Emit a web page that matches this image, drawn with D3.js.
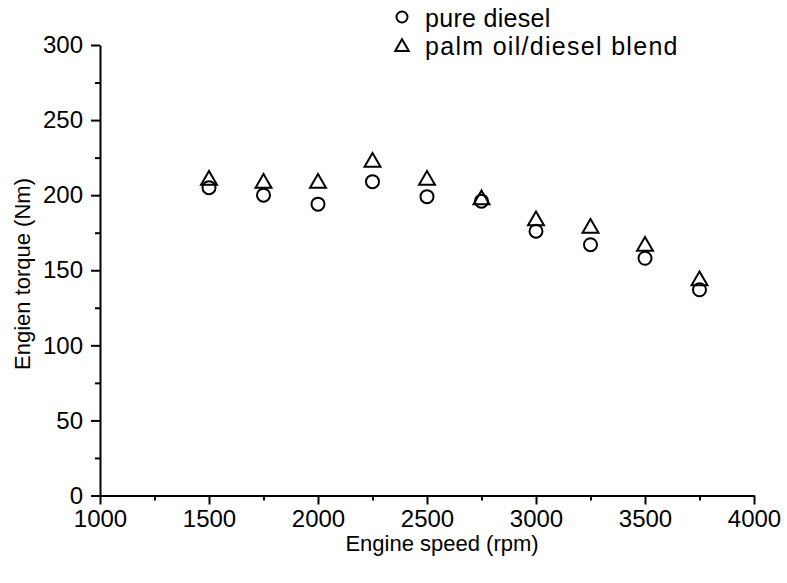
<!DOCTYPE html>
<html>
<head>
<meta charset="utf-8">
<script src="https://cdn.jsdelivr.net/npm/d3@7"></script>
<style>
  body { margin: 0; background: #fff; }
  text { font-family: "Liberation Sans", Arial, sans-serif; fill: #000; }
</style>
</head>
<body>
<div id="chart"></div>
<script>
// engine speed (rpm)
var speeds = [1500, 1750, 2000, 2250, 2500, 2750, 3000, 3250, 3500, 3750];
// torque (Nm)
var pureDiesel = [205, 200, 194, 209, 199, 196, 176, 167, 158, 137];
var palmBlend  = [210, 208, 208, 222, 210, 197, 183, 178, 166, 143];
var xTicks = [1000, 1500, 2000, 2500, 3000, 3500, 4000];
var yTicks = [0, 50, 100, 150, 200, 250, 300];

var width = 787, height = 583;

var svg = d3.select("#chart").append("svg")
    .attr("width", width)
    .attr("height", height);

var x = d3.scaleLinear().domain([1000, 4000]).range([100, 754]);
var y = d3.scaleLinear().domain([0, 300]).range([495.5, 45]);

// minor ticks first
svg.append("g")
    .attr("transform", "translate(0," + y(0) + ")")
    .call(d3.axisBottom(x).tickValues(d3.range(1250, 4000, 500)).tickSize(5).tickFormat(""))
    .call(function(g) { g.select(".domain").remove(); });
svg.append("g")
    .attr("transform", "translate(" + x(1000) + ",0)")
    .call(d3.axisLeft(y).tickValues(d3.range(25, 300, 50)).tickSize(5).tickFormat(""))
    .call(function(g) { g.select(".domain").remove(); });

var xAxis = svg.append("g")
    .attr("transform", "translate(0," + y(0) + ")")
    .call(d3.axisBottom(x).tickValues(xTicks).tickFormat(d3.format("d"))
        .tickSize(9).tickSizeOuter(0).tickPadding(5));
xAxis.selectAll("text").style("font-size", "24px").attr("dy", "0.71em");

var yAxis = svg.append("g")
    .attr("transform", "translate(" + x(1000) + ",0)")
    .call(d3.axisLeft(y).tickValues(yTicks).tickFormat(d3.format("d"))
        .tickSize(9).tickSizeOuter(0).tickPadding(8));
yAxis.selectAll("text").style("font-size", "24px");

svg.selectAll(".domain, .tick line").attr("stroke", "#000").attr("stroke-width", 2);

// axis titles
svg.append("text")
    .attr("x", 442).attr("y", 551)
    .attr("text-anchor", "middle")
    .style("font-size", "22px")
    .text("Engine speed (rpm)");

svg.append("text")
    .attr("transform", "translate(30,274) rotate(-90)")
    .attr("text-anchor", "middle")
    .style("font-size", "22px")
    .text("Engien torque (Nm)");

var tri = d3.symbol().type(d3.symbolTriangle).size(110);

// pure diesel circles
svg.selectAll(".pd")
    .data(speeds)
  .enter().append("circle")
    .attr("class", "pd")
    .attr("cx", function(d) { return x(d); })
    .attr("cy", function(d, i) { return y(pureDiesel[i]); })
    .attr("r", 6.5)
    .attr("fill", "none")
    .attr("stroke", "#000")
    .attr("stroke-width", 2);

// palm oil blend triangles
svg.selectAll(".pb")
    .data(speeds)
  .enter().append("path")
    .attr("class", "pb")
    .attr("d", tri)
    .attr("transform", function(d, i) { return "translate(" + x(d) + "," + y(palmBlend[i]) + ")"; })
    .attr("fill", "none")
    .attr("stroke", "#000")
    .attr("stroke-width", 2);

// legend
var legend = svg.append("g");
legend.append("circle")
    .attr("cx", 402).attr("cy", 17).attr("r", 5.5)
    .attr("fill", "none").attr("stroke", "#000").attr("stroke-width", 2);
legend.append("path")
    .attr("d", d3.symbol().type(d3.symbolTriangle).size(80))
    .attr("transform", "translate(402,47)")
    .attr("fill", "none").attr("stroke", "#000").attr("stroke-width", 2);
legend.append("text")
    .attr("x", 425).attr("y", 27)
    .style("font-size", "25px")
    .style("letter-spacing", "0.3px")
    .text("pure diesel");
legend.append("text")
    .attr("x", 425).attr("y", 55)
    .style("font-size", "25px")
    .style("letter-spacing", "1.3px")
    .text("palm oil/diesel blend");
</script>
</body>
</html>
